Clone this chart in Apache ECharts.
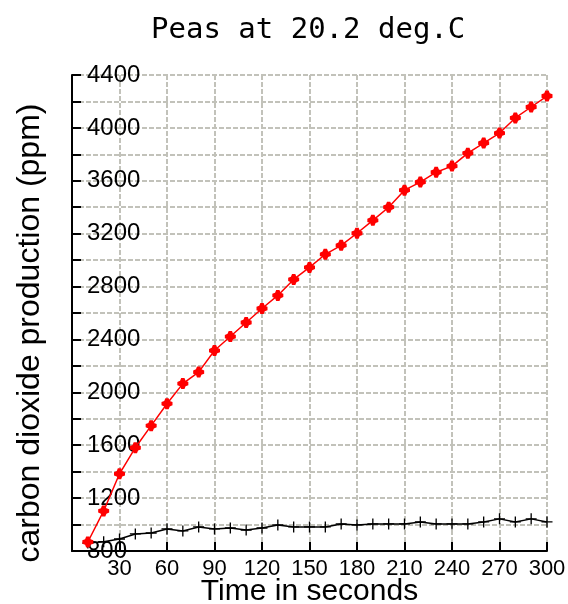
<!DOCTYPE html>
<html>
<head>
<meta charset="utf-8">
<script src="https://cdn.jsdelivr.net/npm/echarts@6/dist/echarts.min.js"></script>
<style>
html,body{margin:0;padding:0;background:#fff;}
#chart{width:568px;height:604px;}
</style>
</head>
<body>
<div id="chart"></div>
<script>
var titleText = 'Peas at 20.2 deg.C';
var xName = 'Time in seconds';
var yName = 'carbon dioxide production (ppm)';
var times = [10,20,30,40,50,60,70,80,90,100,110,120,130,140,150,160,170,180,190,200,210,220,230,240,250,260,270,280,290,300];
var peas = [868,1103,1384,1581,1748,1914,2066,2153,2316,2422,2528,2634,2733,2854,2945,3044,3112,3203,3301,3400,3529,3590,3665,3711,3809,3885,3961,4075,4158,4241];
var control = [860,870,891,929,936,967,952,982,967,974,959,974,997,982,982,982,1005,997,1005,1005,1005,1020,1005,1005,1005,1020,1043,1020,1043,1020];

function pairs(xs, ys){ return xs.map(function(x,i){ return [x, ys[i]]; }); }

var chart = echarts.init(document.getElementById('chart'));
var plusPath = 'path://M0,4.4H10V5.6H0Z M4.4,0H5.6V10H4.4Z';
var blobPath = 'path://M3.5,0H6.5L7.5,2.5L10,3.5V6.5L7.5,7.5L6.5,10H3.5L2.5,7.5L0,6.5V3.5L2.5,2.5Z';
var gridLine = {show: true, lineStyle: {color: '#c2c2ba', type: [5, 2], width: 2}};
chart.setOption({
  animation: false,
  title: {
    text: titleText,
    left: 151, top: 16, padding: 0,
    textStyle: {fontFamily: 'DejaVu Sans Mono', fontWeight: 'normal', fontSize: 29, color: '#000'}
  },
  grid: {left: 72, right: 21, top: 75, bottom: 53, containLabel: false, outerBoundsMode: 'none'},
  xAxis: {
    type: 'value', min: 0, max: 300, interval: 30,
    name: xName, nameLocation: 'middle', nameGap: 26, nameMoveOverlap: false,
    nameTextStyle: {fontFamily: 'Liberation Sans', fontSize: 30, color: '#000'},
    axisLine: {show: true, onZero: false, lineStyle: {color: '#000', width: 2}},
    axisTick: {show: true, inside: true, length: 9, lineStyle: {color: '#000', width: 2}},
    axisLabel: {showMinLabel: false, margin: 7, fontFamily: 'Liberation Sans', fontSize: 22, color: '#000'},
    splitLine: gridLine
  },
  yAxis: [
    {
      type: 'value', min: 800, max: 4400, interval: 200, position: 'left',
      name: yName, nameLocation: 'middle', nameGap: 26, nameMoveOverlap: false,
      nameTextStyle: {fontFamily: 'Liberation Sans', fontSize: 32, color: '#000', padding: [0, 40, 0, 0]},
      axisLine: {show: true, onZero: false, lineStyle: {color: '#000', width: 2}},
      axisTick: {show: false},
      axisLabel: {inside: true, margin: 15, fontFamily: 'Liberation Sans', fontSize: 24, color: '#000',
        formatter: function(v){ return (v % 400 === 0) ? String(v) : ''; }},
      splitLine: gridLine
    },
    {
      type: 'value', min: 800, max: 4400, interval: 200, position: 'left', offset: 0,
      axisLine: {show: false, onZero: false},
      axisTick: {show: true, inside: true, length: 9, lineStyle: {color: '#000', width: 2}},
      axisLabel: {show: false},
      splitLine: {show: false}
    }
  ],
  series: [
    {
      type: 'line', data: pairs(times, control), z: 3, yAxisIndex: 0,
      symbol: plusPath, symbolSize: 11, showAllSymbol: true,
      itemStyle: {color: '#000'},
      lineStyle: {color: '#000', width: 1.5}
    },
    {
      type: 'line', data: pairs(times, peas), z: 4, yAxisIndex: 0,
      symbol: blobPath, symbolSize: 11, showAllSymbol: true,
      itemStyle: {color: '#ff0000'},
      lineStyle: {color: '#ff0000', width: 1.5}
    }
  ]
});
</script>
</body>
</html>
